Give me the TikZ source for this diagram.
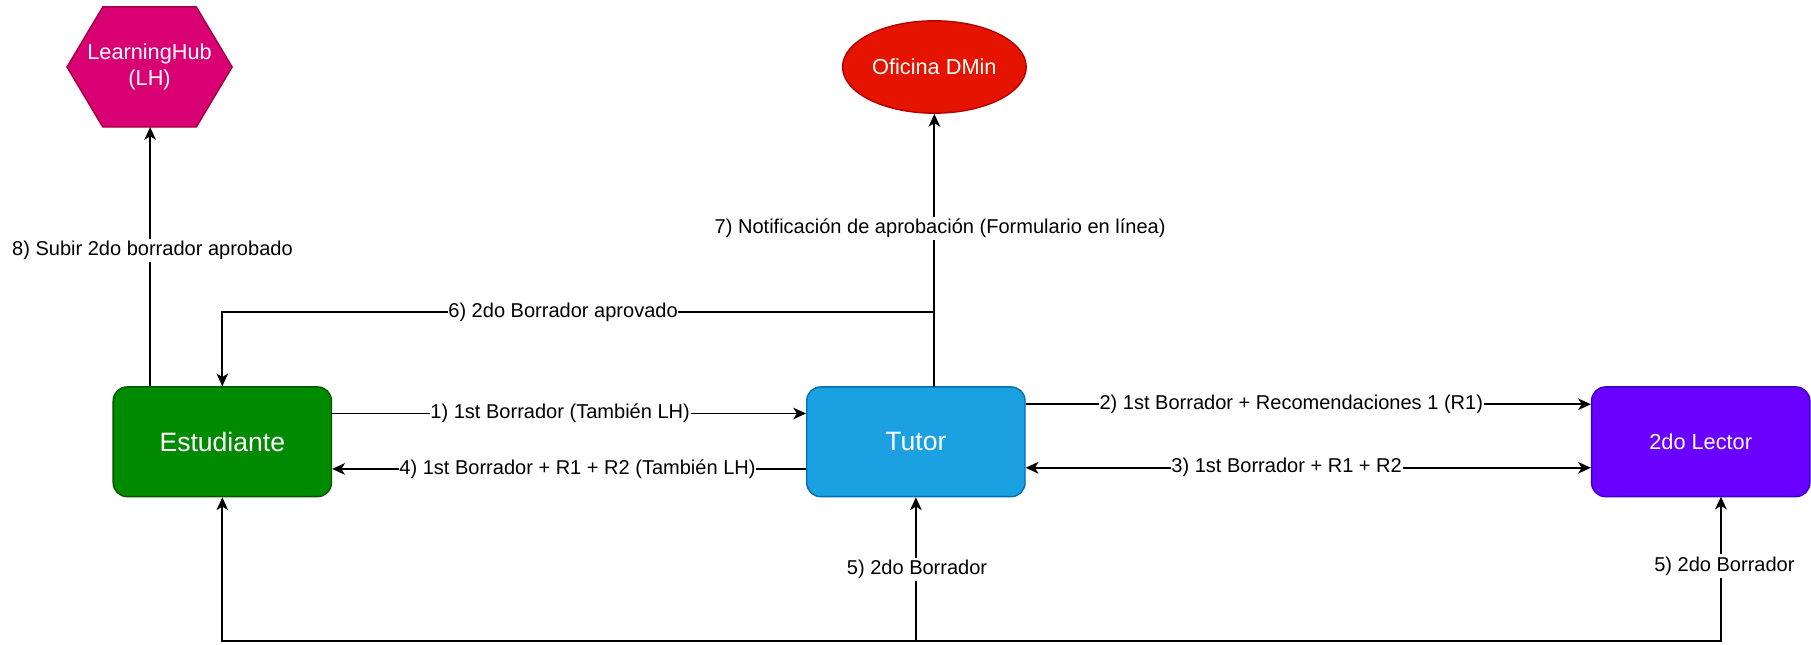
\documentclass[tikz,border=0pt]{standalone}
\usepackage{fontspec}
\setmainfont{Liberation Sans}
\usetikzlibrary{arrows.meta,shapes.geometric,calc}
\definecolor{lhfill}{HTML}{D80073}\definecolor{lhdraw}{HTML}{A50040}
\definecolor{dmfill}{HTML}{E51400}\definecolor{dmdraw}{HTML}{B20000}
\definecolor{esfill}{HTML}{008A00}\definecolor{esdraw}{HTML}{005700}
\definecolor{tufill}{HTML}{1BA1E2}\definecolor{tudraw}{HTML}{006EAF}
\definecolor{lefill}{HTML}{6A00FF}\definecolor{ledraw}{HTML}{3700CC}
\tikzset{
  box/.style={draw, line width=0.6pt, rounded corners=6pt, minimum width=94.5pt, minimum height=47.5pt, inner sep=0pt, text=white, font=\fontsize{11.5}{13}\selectfont},
  conn/.style={line width=0.8pt, -{Stealth[length=5.5pt,width=5pt,inset=1.5pt]}},
  both/.style={line width=0.8pt, {Stealth[length=5.5pt,width=5pt,inset=1.5pt]}-{Stealth[length=5.5pt,width=5pt,inset=1.5pt]}},
  plain/.style={line width=0.8pt},
  lbl/.style={fill=white, inner xsep=0.3pt, inner ysep=1pt, font=\fontsize{8.67}{10}\selectfont, text=black},
}
\begin{document}
\begin{tikzpicture}[x=0.5pt,y=-0.5pt]
\useasboundingbox (0,0) rectangle (1568,557.6);
% hexagon
\draw[fill=lhfill, draw=lhdraw, line width=0.6pt] (58,58) -- (89,6) -- (170,6) -- (201,58) -- (170,110) -- (89,110) -- cycle;
\node[text=white, align=center, font=\fontsize{9.4}{11.5}\selectfont] (lh) at (129.5,58) {LearningHub\\(LH)};
\coordinate (lhb) at (130,110);
% ellipse
\node[ellipse, draw=dmdraw, fill=dmfill, line width=0.6pt, minimum width=79.5pt, minimum height=40pt, inner sep=0pt, text=white, font=\fontsize{9.4}{11.5}\selectfont] (dm) at (809,58) {Oficina DMin};
% boxes
\node[box, fill=esfill, draw=esdraw] (es) at (192.5,382.5) {Estudiante};
\node[box, fill=tufill, draw=tudraw] (tu) at (793,382.5) {Tutor};
\node[box, fill=lefill, draw=ledraw, font=\fontsize{9.4}{11.5}\selectfont] (le) at (1472.5,382.5) {2do Lector};
% 8
\draw[conn] (es.north -| lhb) -- (lhb);
\node[lbl] (l8) at (132,217) {8) Subir 2do borrador aprobado};
% 7
\coordinate (t7) at (809,335);
\draw[conn] (t7) -- (dm.south);
\node[lbl] (l7) at (814,198) {7) Notificación de aprobación (Formulario en línea)};
% 6
\coordinate (j6) at (809,270);
\draw[conn] (j6) -| (es.north);
\node[lbl] (l6) at (487.5,270) {6) 2do Borrador aprovado};
% 1
\coordinate (s1) at (287,358);
\draw[conn] (s1) -- (s1 -| tu.west);
\node[lbl] (l1) at (485,358) {1) 1st Borrador (También LH)};
% 4
\coordinate (s4) at (698,406);
\draw[conn] (s4) -- (s4 -| es.east);
\node[lbl] (l4) at (500,406) {4) 1st Borrador + R1 + R2 (También LH)};
% 2
\coordinate (s2) at (888,350);
\draw[conn] (s2) -- (s2 -| le.west);
\node[lbl] (l2) at (1118,350) {2) 1st Borrador + Recomendaciones 1 (R1)};
% 3
\coordinate (s3) at (888,405);
\draw[both] (s3) -- (s3 -| le.west);
\node[lbl] (l3) at (1114,405) {3) 1st Borrador + R1 + R2};
% 5
\coordinate (b1) at (192.5,555);
\coordinate (b2) at (793,555);
\coordinate (b3) at (1490,555);
\coordinate (leb) at (1490,430);
\draw[both] (es.south) -- (b1) -- (b3) -- (leb);
\draw[conn] (b2) -- (tu.south);
\node[lbl] (l5a) at (794,493) {5) 2do Borrador};
\node[lbl] (l5b) at (1493,490) {5) 2do Borrador};
\end{tikzpicture}
\end{document}
